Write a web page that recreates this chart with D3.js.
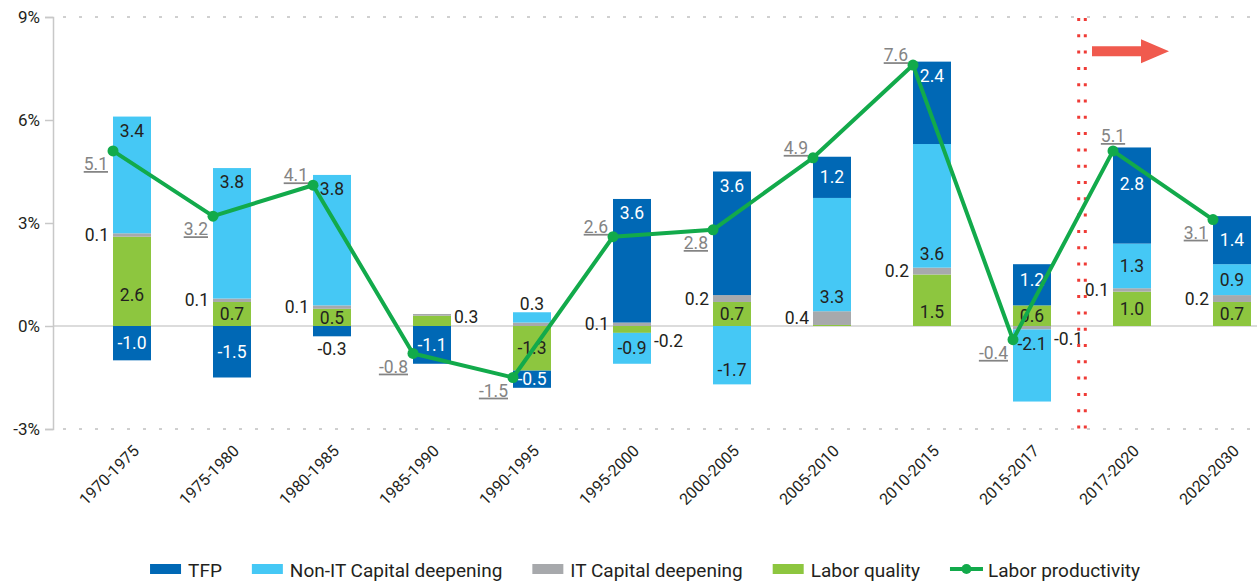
<!DOCTYPE html>
<html>
<head>
<meta charset="utf-8">
<script src="https://cdn.jsdelivr.net/npm/d3@7"></script>
<style>
  body { margin: 0; background: #fff; }
  svg { font-family: Roboto, "Noto Sans", sans-serif; }
</style>
</head>
<body>
<div id="chart"></div>
<script>
const FRAME_WIDTH = 1257;
const FRAME_HEIGHT = 581;

// chart data (percent contribution to labor productivity growth)
const periods = ["1970-1975", "1975-1980", "1980-1985", "1985-1990", "1990-1995", "1995-2000",
                 "2000-2005", "2005-2010", "2010-2015", "2015-2017", "2017-2020", "2020-2030"];
const tfp       = [-1.0, -1.5, -0.3, -1.1, -0.5, 3.6, 3.6, 1.2, 2.4, 1.2, 2.8, 1.4];
const nonIT     = [3.4, 3.8, 3.8, 0.0, 0.3, -0.9, -1.7, 3.3, 3.6, -2.1, 1.3, 0.9];
const itCap     = [0.1, 0.1, 0.1, 0.05, 0.1, 0.1, 0.2, 0.4, 0.2, -0.1, 0.1, 0.2];
const laborQ    = [2.6, 0.7, 0.5, 0.3, -1.3, -0.2, 0.7, 0.03, 1.5, 0.6, 1.0, 0.7];
const laborProd = [5.1, 3.2, 4.1, -0.8, -1.5, 2.6, 2.8, 4.9, 7.6, -0.4, 5.1, 3.1];
const yTicks = [-3, 0, 3, 6, 9];
const forecastFrom = "2017-2020";

const SERIES = [
  {key: "laborQ", name: "Labor quality", color: "#8dc63f", values: laborQ},
  {key: "itCap", name: "IT Capital deepening", color: "#a7a9ac", values: itCap},
  {key: "nonIT", name: "Non-IT Capital deepening", color: "#45c8f5", values: nonIT},
  {key: "tfp", name: "TFP", color: "#0068b5", values: tfp}
];
const LINE_COLOR = "#12aa4b";

// where each bar label sits: m=middle, h=near top, l=near bottom, L/R=left/right of bar,
// A/B=above/below the bar, "" = no label. optional second item = extra y shift
const LABEL_PLACE = {
  tfp:    [["m"], ["m"], ["B"], ["m"], ["m"], ["h"], ["h"], ["m"], ["h"], ["m", -5], ["m", -12], ["m"]],
  nonIT:  [["h"], ["h"], ["h"], [""], ["A"], ["m"], ["l"], ["l"], ["l"], ["h"], ["m"], ["m"]],
  itCap:  [["L"], ["L"], ["L"], [""], [""], ["L"], ["L"], ["L"], ["L"], ["R"], ["L"], ["L"]],
  laborQ: [["m", 14], ["m"], ["m"], ["R"], ["m"], ["R"], ["m"], [""], ["l"], ["m"], ["m"], ["m"]]
};
// line labels: BL below-left, AL above-left, A above
const LP_PLACE = ["BL", "BL", "AL", "BL", "BL", "AL", "BL", "AL", "AL", "BL", "A", "BL"];

const svg = d3.select("#chart").append("svg")
  .attr("width", FRAME_WIDTH)
  .attr("height", FRAME_HEIGHT);

const AXIS_X = 53, PLOT_RIGHT = 1257;
const Y_SCALE = d3.scaleLinear().domain([-3, 9]).range([429, 17]);
const X_SCALE = d3.scaleBand().domain(periods).range([63, 1263]);
const BAR_W = 38;
const cx = (p) => X_SCALE(p) + X_SCALE.step() / 2;   // line point, left edge of bar

// grid lines
svg.selectAll(".grid")
  .data([9, -3])
  .enter().append("line")
    .attr("x1", AXIS_X).attr("x2", PLOT_RIGHT)
    .attr("y1", d => Y_SCALE(d)).attr("y2", d => Y_SCALE(d))
    .attr("stroke", "#a0a0a0").attr("stroke-width", 1)
    .attr("stroke-dasharray", "3,13")
    .attr("stroke-dashoffset", -10);

svg.append("line")
  .attr("x1", AXIS_X).attr("x2", PLOT_RIGHT)
  .attr("y1", Y_SCALE(0)).attr("y2", Y_SCALE(0))
  .attr("stroke", "#d0d0d0").attr("stroke-width", 1.5);

// y axis
const yAxis = svg.append("g")
  .attr("transform", "translate(" + AXIS_X + ",0)")
  .call(d3.axisLeft(Y_SCALE).tickValues(yTicks).tickSize(8).tickPadding(5).tickFormat(d => d + "%"));
yAxis.select(".domain").attr("stroke", "#c8c8c8").attr("stroke-width", 1.5);
yAxis.selectAll(".tick line").attr("stroke", "#c8c8c8").attr("stroke-width", 1.5);
yAxis.selectAll(".tick text").attr("font-size", "17px").attr("fill", "#231f20")
  .attr("font-family", "Roboto, sans-serif");

// stacked bars
const rows = periods.map((p, i) => {
  const r = {period: p};
  SERIES.forEach(s => r[s.key] = s.values[i]);
  return r;
});
const stack = d3.stack()
  .keys(SERIES.map(s => s.key))
  .offset(d3.stackOffsetDiverging)(rows);

const layers = svg.selectAll(".layer")
  .data(stack)
  .enter().append("g")
    .attr("fill", (d, i) => SERIES[i].color);

layers.selectAll("rect")
  .data(d => d)
  .enter().append("rect")
    .attr("x", d => cx(d.data.period))
    .attr("width", BAR_W)
    .attr("y", d => Y_SCALE(Math.max(d[0], d[1])))
    .attr("height", d => Math.abs(Y_SCALE(d[0]) - Y_SCALE(d[1])));

// bar labels
const barLabels = [];
stack.forEach((layer, li) => {
  const key = SERIES[li].key;
  layer.forEach((d, i) => {
    const place = LABEL_PLACE[key][i];
    if (!place[0]) return;
    const v = SERIES[li].values[i];
    const top = Y_SCALE(Math.max(d[0], d[1]));
    const bot = Y_SCALE(Math.min(d[0], d[1]));
    const mid = (top + bot) / 2;
    const x0 = cx(d.data.period);
    let x = x0 + BAR_W / 2, y = mid, anchor = "middle";
    switch (place[0]) {
      case "h": y = top + 14; break;
      case "l": y = bot - 14; break;
      case "L": x = x0 - 4; anchor = "end"; break;
      case "R": x = x0 + BAR_W + 3; anchor = "start"; y = mid + (v < 0 ? 11 : -4); break;
      case "A": y = top - 8; break;
      case "B": y = bot + 13; break;
    }
    y += place[1] || 0;
    const inside = "mhl".includes(place[0]);
    barLabels.push({x, y, anchor, text: v.toFixed(1),
      color: inside && key === "tfp" ? "#ffffff" : "#231f20"});
  });
});

svg.selectAll(".barlabel")
  .data(barLabels)
  .enter().append("text")
    .attr("x", d => d.x)
    .attr("y", d => d.y)
    .attr("dy", "0.35em")
    .attr("text-anchor", d => d.anchor)
    .attr("font-size", "17.5px")
    .attr("fill", d => d.color)
    .text(d => d.text);

// forecast separator and arrow
const sepX = (cx(periods[periods.indexOf(forecastFrom) - 1]) + BAR_W + cx(forecastFrom)) / 2;
[-3.3, 3.3].forEach(off => {
  svg.append("line")
    .attr("x1", sepX + off).attr("x2", sepX + off)
    .attr("y1", Y_SCALE(9) + 1).attr("y2", Y_SCALE(-3) + 2)
    .attr("stroke", "#ef3b36").attr("stroke-width", 3)
    .attr("stroke-dasharray", "3,13.3");
});
const ay = Y_SCALE(8);
const ax = sepX + 10;
svg.append("path")
  .attr("d", `M${ax},${ay - 5} L${ax + 49},${ay - 5} L${ax + 49},${ay - 12} L${ax + 77},${ay}
              L${ax + 49},${ay + 12} L${ax + 49},${ay + 5} L${ax},${ay + 5} Z`)
  .attr("fill", "#f05a4e");

// labor productivity line
const line = d3.line()
  .x((d, i) => cx(periods[i]))
  .y(d => Y_SCALE(d));

svg.append("path")
  .datum(laborProd)
  .attr("d", line)
  .attr("fill", "none")
  .attr("stroke", LINE_COLOR)
  .attr("stroke-width", 4)
  .attr("stroke-linejoin", "round");

svg.selectAll(".lp")
  .data(laborProd)
  .enter().append("circle")
    .attr("cx", (d, i) => cx(periods[i]))
    .attr("cy", d => Y_SCALE(d))
    .attr("r", 5.5)
    .attr("fill", LINE_COLOR);

svg.selectAll(".lplabel")
  .data(laborProd)
  .enter().append("text")
    .attr("x", (d, i) => cx(periods[i]) - (LP_PLACE[i] === "A" ? 0 : 5))
    .attr("y", (d, i) => Y_SCALE(d) + (LP_PLACE[i] === "BL" ? 13 : LP_PLACE[i] === "AL" ? -10 : -15))
    .attr("dy", "0.35em")
    .attr("text-anchor", (d, i) => LP_PLACE[i] === "A" ? "middle" : "end")
    .attr("font-size", "17.5px")
    .attr("fill", "#848484")
    .style("text-decoration", "underline")
    .text(d => d.toFixed(1));

// x axis labels
svg.selectAll(".xlabel")
  .data(periods)
  .enter().append("text")
    .attr("transform", d => "translate(" + (cx(d) + BAR_W / 2 + 8) + ",452) rotate(-45)")
    .attr("text-anchor", "end")
    .attr("font-size", "16px")
    .attr("fill", "#231f20")
    .text(d => d);

// legend
const legendItems = [SERIES[3], SERIES[2], SERIES[1], SERIES[0], {name: "Labor productivity", line: true}];
const legend = svg.append("g");
let lx = 0;
legendItems.forEach(item => {
  const g = legend.append("g").attr("transform", "translate(" + lx + ",0)");
  if (item.line) {
    g.append("line").attr("x1", 0).attr("x2", 33).attr("y1", -8).attr("y2", -8)
      .attr("stroke", LINE_COLOR).attr("stroke-width", 4);
    g.append("circle").attr("cx", 16.5).attr("cy", -8).attr("r", 5).attr("fill", LINE_COLOR);
  } else {
    g.append("rect").attr("x", 0).attr("y", -13).attr("width", 31).attr("height", 10)
      .attr("fill", item.color);
  }
  const t = g.append("text").attr("x", 38).attr("y", 0)
    .attr("font-size", "19px").attr("fill", "#231f20").text(item.name);
  lx += 38 + t.node().getComputedTextLength() + 30;
});
const legendW = lx - 30;
legend.attr("transform", "translate(" + (645 - legendW / 2) + ",577)");
</script>
</body>
</html>
